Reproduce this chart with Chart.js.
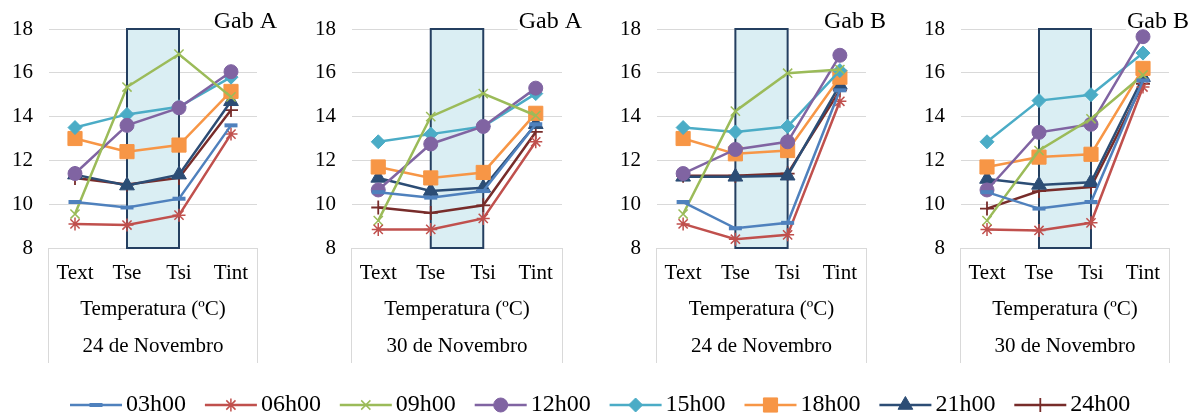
<!DOCTYPE html>
<html><head><meta charset="utf-8">
<script src="https://cdn.jsdelivr.net/npm/chart.js@4.4.1/dist/chart.umd.min.js"></script>
<style>
html,body{margin:0;padding:0;background:#fff;width:1197px;height:420px;overflow:hidden;position:relative;}
canvas{position:absolute;top:0;}
</style></head><body>
<canvas id="c0"></canvas><canvas id="c1"></canvas><canvas id="c2"></canvas><canvas id="c3"></canvas>
<canvas id="lg"></canvas>
<script>
// ---- data ----
const categories = ['Text', 'Tse', 'Tsi', 'Tint'];
const seriesNames = ['03h00', '06h00', '09h00', '12h00', '15h00', '18h00', '21h00', '24h00'];
const yTickValues = [8, 10, 12, 14, 16, 18];
const gabLabels = ['Gab A', 'Gab A', 'Gab B', 'Gab B'];
const dateLabels = ['24 de Novembro', '30 de Novembro', '24 de Novembro', '30 de Novembro'];
const axisTitle = 'Temperatura (ºC)';

// values per panel: one row per series (03h00 ... 24h00), columns Text, Tse, Tsi, Tint
const gabA_24Nov = [
  [10.1, 9.85, 10.25, 13.6],
  [9.1, 9.05, 9.5, 13.2],
  [9.55, 15.35, 16.85, 14.9],
  [11.4, 13.6, 14.4, 16.05],
  [13.5, 14.1, 14.45, 15.8],
  [13.0, 12.4, 12.7, 15.15],
  [11.35, 10.85, 11.35, 14.7],
  [11.2, 10.9, 11.2, 14.3]
];
const gabA_30Nov = [
  [10.55, 10.3, 10.6, 13.65],
  [8.85, 8.85, 9.35, 12.85],
  [9.25, 14.0, 15.05, 14.05],
  [10.65, 12.75, 13.55, 15.3],
  [12.85, 13.2, 13.55, 15.05],
  [11.7, 11.2, 11.45, 14.15],
  [11.2, 10.6, 10.75, 13.65],
  [9.85, 9.6, 9.95, 13.3]
];
const gabB_24Nov = [
  [10.1, 8.9, 9.15, 15.2],
  [9.1, 8.4, 8.6, 14.7],
  [9.55, 14.25, 15.98, 16.15],
  [11.4, 12.5, 12.85, 16.8],
  [13.5, 13.3, 13.55, 16.1],
  [13.0, 12.3, 12.45, 15.8],
  [11.25, 11.25, 11.3, 15.45],
  [11.3, 11.3, 11.4, 15.2]
];
const gabB_30Nov = [
  [10.55, 9.8, 10.1, 15.65],
  [8.85, 8.8, 9.15, 15.35],
  [9.25, 12.45, 13.9, 15.9],
  [10.65, 13.28, 13.65, 17.65],
  [12.85, 14.73, 15.0, 16.9],
  [11.7, 12.15, 12.28, 16.2],
  [11.15, 10.88, 11.0, 15.8],
  [9.8, 10.6, 10.78, 15.5]
];
const panelValues = [gabA_24Nov, gabA_30Nov, gabB_24Nov, gabB_30Nov];

// ---- styles / layout ----
const seriesColors = ['#4F81BD', '#C0504D', '#9BBB59', '#8064A2', '#4BACC6', '#F79646', '#2C4D75', '#772C2A'];
const seriesPoint = [
  {style: 'line', r: 6.5, bw: 4},
  {style: 'star', r: 6.5, bw: 1.5},
  {style: 'crossRot', r: 6.5, bw: 1.5},
  {style: 'circle', r: 7, bw: 1},
  {style: 'rectRot', r: 7, bw: 1},
  {style: 'rect', r: 10, bw: 1},
  {style: 'triangle', r: 8.5, bw: 1},
  {style: 'cross', r: 7, bw: 1.8}
];
const plotLeft = [49, 352, 657, 961];
const plotRight = [257, 562, 866, 1169];
const FONT = "'Liberation Serif', 'Times New Roman', serif";
const CANVAS_H = 370, TOP = 29, BOTTOM = 248, YAXIS_W = 50, RIGHT_PAD = 42;

const panelDecor = {
  id: 'panelDecor',
  beforeDatasetsDraw(chart, args, opts) {
    const {ctx, chartArea: a, scales: {x}} = chart;
    const x1 = x.getPixelForValue(1), x2 = x.getPixelForValue(2);
    ctx.save();
    ctx.fillStyle = '#DAEEF3';
    ctx.fillRect(x1, a.top, x2 - x1, a.bottom - a.top);
    ctx.strokeStyle = '#243F60';
    ctx.lineWidth = 2;
    ctx.strokeRect(x1, a.top, x2 - x1, a.bottom - a.top);
    // Gab label
    ctx.font = '24px ' + FONT;
    ctx.textAlign = 'right';
    ctx.textBaseline = 'middle';
    const w = ctx.measureText(opts.gab).width;
    ctx.fillStyle = '#fff';
    ctx.fillRect(a.right + 20 - w - 1, 12, w + 2, 20);
    ctx.fillStyle = '#000';
    ctx.fillText(opts.gab, a.right + 20, 22);
    ctx.restore();
  },
  afterDraw(chart, args, opts) {
    const {ctx, chartArea: a} = chart;
    ctx.save();
    ctx.strokeStyle = '#D9D9D9';
    ctx.lineWidth = 1;
    ctx.beginPath();
    ctx.moveTo(Math.round(a.left) - 0.5, a.bottom);
    ctx.lineTo(Math.round(a.left) - 0.5, a.bottom + 115);
    ctx.moveTo(Math.round(a.right) + 0.5, a.bottom);
    ctx.lineTo(Math.round(a.right) + 0.5, a.bottom + 115);
    ctx.stroke();
    ctx.fillStyle = '#000';
    ctx.font = '21px ' + FONT;
    ctx.textAlign = 'center';
    ctx.textBaseline = 'middle';
    const cx = (a.left + a.right) / 2;
    ctx.fillText(axisTitle, cx, a.bottom + 61);
    ctx.fillText(opts.date, cx, a.bottom + 98);
    ctx.restore();
  }
};

panelValues.forEach((vals, i) => {
  const cv = document.getElementById('c' + i);
  const w = plotRight[i] - plotLeft[i] + YAXIS_W + RIGHT_PAD;
  cv.width = w; cv.height = CANVAS_H;
  cv.style.left = (plotLeft[i] - YAXIS_W) + 'px';
  cv.style.width = w + 'px'; cv.style.height = CANVAS_H + 'px';
  new Chart(cv, {
    type: 'line',
    data: {
      labels: categories,
      datasets: seriesNames.map((name, s) => ({
        label: name,
        data: vals[s],
        borderColor: seriesColors[s],
        backgroundColor: seriesColors[s],
        borderWidth: 2.5,
        pointStyle: seriesPoint[s].style,
        pointRadius: seriesPoint[s].r,
        pointBorderWidth: seriesPoint[s].bw,
        pointBackgroundColor: seriesColors[s],
        pointBorderColor: seriesColors[s],
        tension: 0,
        clip: false
      }))
    },
    options: {
      responsive: false,
      animation: false,
      devicePixelRatio: 1,
      layout: {padding: {left: 0, right: RIGHT_PAD, top: TOP, bottom: 0}},
      plugins: {
        legend: {display: false},
        tooltip: {enabled: false},
        panelDecor: {gab: gabLabels[i], date: dateLabels[i]}
      },
      scales: {
        x: {
          type: 'category',
          offset: true,
          grid: {display: false, drawTicks: false},
          border: {display: true, color: '#D9D9D9', width: 1},
          ticks: {color: '#000', font: {family: FONT, size: 21}, padding: 13, maxRotation: 0, autoSkip: false},
          afterFit(scale) { scale.height = CANVAS_H - BOTTOM; }
        },
        y: {
          min: 8, max: 18,
          afterBuildTicks(scale) { scale.ticks = yTickValues.map(v => ({value: v})); },
          grid: {color: '#D9D9D9', lineWidth: 1, drawTicks: false},
          border: {display: false},
          ticks: {color: '#000', font: {family: FONT, size: 21}, padding: 16},
          afterFit(scale) { scale.width = YAXIS_W; }
        }
      }
    },
    plugins: [panelDecor]
  });
});

// ---- legend ----
(function () {
  const cv = document.getElementById('lg');
  cv.width = 1197; cv.height = 50;
  cv.style.top = '370px'; cv.style.left = '0px';
  const ctx = cv.getContext('2d');
  const cy = 35;
  seriesNames.forEach((name, s) => {
    const x0 = 70 + s * 134.9;
    ctx.save();
    ctx.strokeStyle = seriesColors[s];
    ctx.fillStyle = seriesColors[s];
    ctx.lineWidth = 2.5;
    ctx.beginPath();
    ctx.moveTo(x0, cy); ctx.lineTo(x0 + 52, cy);
    ctx.stroke();
    ctx.lineWidth = seriesPoint[s].bw;
    Chart.helpers.drawPoint(ctx, {
      pointStyle: seriesPoint[s].style,
      radius: seriesPoint[s].r,
      rotation: 0,
      borderWidth: seriesPoint[s].bw
    }, x0 + 26, cy);
    ctx.restore();
    ctx.fillStyle = '#000';
    ctx.font = '24px ' + FONT;
    ctx.textAlign = 'left';
    ctx.textBaseline = 'middle';
    ctx.fillText(name, x0 + 56, cy);
  });
})();
</script>
</body></html>
